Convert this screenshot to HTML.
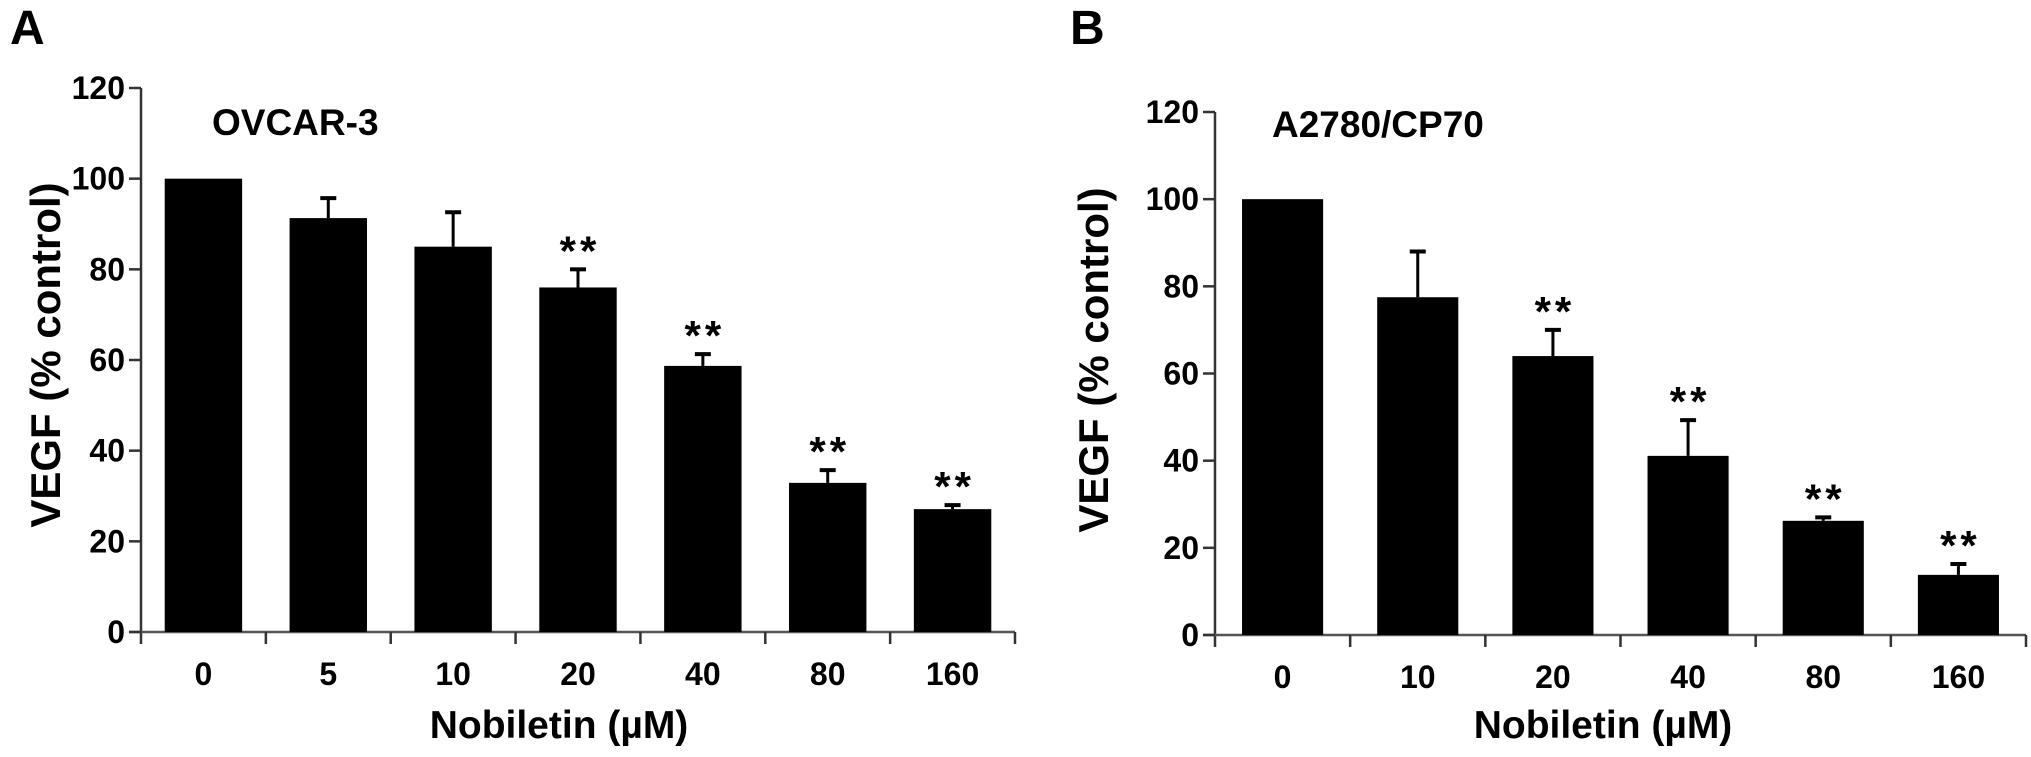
<!DOCTYPE html>
<html><head><meta charset="utf-8"><style>
html,body{margin:0;padding:0;background:#fff;}
svg{display:block;font-family:"Liberation Sans",Arial,sans-serif;font-weight:bold;}
</style></head><body>
<svg id="chart" width="2031" height="757" viewBox="0 0 2031 757" xmlns="http://www.w3.org/2000/svg">
<text x="10" y="44" font-size="48">A</text>
<text x="1070" y="44" font-size="48">B</text>
<text x="212" y="135" font-size="37">OVCAR-3</text>
<text x="1272" y="137" font-size="37">A2780/CP70</text>
<text transform="translate(60,355) rotate(-90)" text-anchor="middle" font-size="42">VEGF (% control)</text>
<text transform="translate(1108,360) rotate(-90)" text-anchor="middle" font-size="42">VEGF (% control)</text>
<text x="559" y="738" text-anchor="middle" font-size="39">Nobiletin (µM)</text>
<text x="1603" y="738" text-anchor="middle" font-size="39">Nobiletin (µM)</text>
<g id="pa"></g>
<g id="pb"></g>
</svg>
<script>
const catsA = ["0","5","10","20","40","80","160"];
const valsA = [100,91.3,85,76,58.7,32.9,27.1];
const errA = [0,4.4,7.6,4,2.6,2.8,0.9];
const sigA = [false,false,false,true,true,true,true];
const catsB = ["0","10","20","40","80","160"];
const valsB = [100,77.5,64,41.1,26.2,13.8];
const errB = [0,10.5,6,8.2,0.8,2.5];
const sigB = [false,false,true,true,true,true];
const yTicks = [0,20,40,60,80,100,120];

const NS="http://www.w3.org/2000/svg";
function mk(g,tag,attrs,text){const e=document.createElementNS(NS,tag);for(const k in attrs)e.setAttribute(k,attrs[k]);if(text!==undefined)e.textContent=text;g.appendChild(e);return e;}

function panel(gid,cats,vals,errs,sig,cfg){
  const g=document.getElementById(gid);
  const y=v=>cfg.y0-(v/120)*(cfg.y0-cfg.y120);
  const step=(cfg.xEnd-cfg.x0)/cats.length;
  const xc=i=>cfg.x0+step*(i+0.5);
  const bw=step*cfg.bwFrac;
  let e=mk(g,'line',{x1:cfg.x0,y1:cfg.y120,x2:cfg.x0,y2:cfg.y0+12,stroke:'#333','stroke-width':2.5});
  
  
  e=mk(g,'line',{x1:cfg.x0-12,y1:cfg.y0,x2:cfg.xEnd,y2:cfg.y0,stroke:'#555','stroke-width':2.5});
  
  
  yTicks.forEach(t=>{
    const l=mk(g,'line',{x1:cfg.x0-12,y1:y(t),x2:cfg.x0,y2:y(t),stroke:'#333','stroke-width':2.5});
    
    
    const tx=mk(g,'text',{x:cfg.x0-16,y:y(t)+11,'text-anchor':'end','font-size':32},String(t));
    
    
  });
  for(let i=1;i<=cats.length;i++){
    const tx0=cfg.x0+step*i;
    const l=mk(g,'line',{x1:tx0,y1:cfg.y0,x2:tx0,y2:cfg.y0+12,stroke:'#333','stroke-width':2.5});
    
    
  }
  cats.forEach((c,i)=>{
    const cx=xc(i),top=y(vals[i]);
    if(errs[i]>0){
      const et=y(vals[i]+errs[i]);
      const el=mk(g,'line',{x1:cx,y1:et,x2:cx,y2:top,stroke:'#000','stroke-width':3});
      
      
      const ec=mk(g,'line',{x1:cx-8,y1:et,x2:cx+8,y2:et,stroke:'#000','stroke-width':4});
      
      
    }
    const r=mk(g,'rect',{x:cx-bw/2,y:top,width:bw,height:cfg.y0-top,fill:'#000'});
    
    
    const lb=mk(g,'text',{x:cx,y:cfg.y0+53,'text-anchor':'middle','font-size':32},c);
    
    
    if(sig[i]){
      const st=y(vals[i]+errs[i]);
      const s=mk(g,'text',{x:cx+2,y:st-4,'text-anchor':'middle','font-size':42,'letter-spacing':4},'**');
      
      
    }
  });
}
panel('pa',catsA,valsA,errA,sigA,{x0:141,xEnd:1015,y0:632,y120:88,bwFrac:0.62});
panel('pb',catsB,valsB,errB,sigB,{x0:1215,xEnd:2026,y0:635,y120:112,bwFrac:0.6});
</script>
</body></html>
